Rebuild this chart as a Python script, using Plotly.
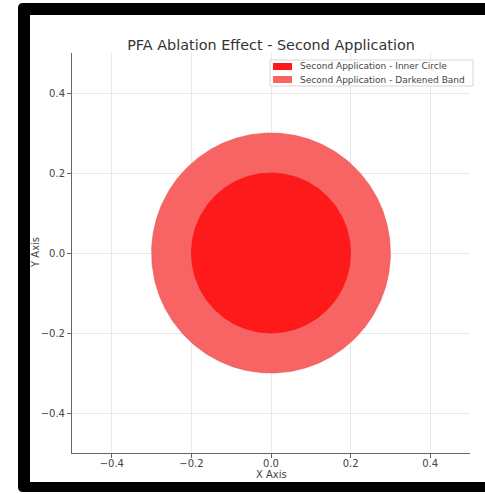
import numpy as np
import plotly.graph_objects as go

# ---- data ----
series_names = ["Second Application - Inner Circle", "Second Application - Darkened Band"]
radii = [0.2, 0.3]
center_x = [0.0, 0.0]
center_y = [0.0, 0.0]
tick_vals = [-0.4, -0.2, 0.0, 0.2, 0.4]
title_text = "PFA Ablation Effect - Second Application"
x_label = "X Axis"
y_label = "Y Axis"

# ---- style ----
W, H = 485, 494
ML, MR, MT, MB = 72, 15, 53, 41
fill_colors = ["#fe1a1a", "#f86464"]
line_colors = ["#f01010", "#e85252"]
FONT = "DejaVu Sans"

PW = W - ML - MR
PH = H - MT - MB


def px(x):
    return (x - ML) / PW


def py(y):
    return (H - MB - y) / PH


fig = go.Figure()

theta = np.linspace(0, 2 * np.pi, 361)
for i in [1, 0]:
    fig.add_trace(go.Scatter(
        x=center_x[i] + radii[i] * np.cos(theta),
        y=center_y[i] + radii[i] * np.sin(theta),
        mode="lines", fill="toself",
        fillcolor=fill_colors[i],
        line=dict(color=line_colors[i], width=0.6),
        name=series_names[i], showlegend=False, hoverinfo="skip",
    ))

shapes = []
# black photo frame: top, bottom and left piece (rounded outer corners)
shapes.append(dict(type="rect", xref="paper", yref="paper",
                   x0=px(28), x1=px(W), y0=py(3), y1=py(15),
                   fillcolor="black", line=dict(width=0), layer="below"))
shapes.append(dict(type="rect", xref="paper", yref="paper",
                   x0=px(28), x1=px(W), y0=py(482), y1=py(492),
                   fillcolor="black", line=dict(width=0), layer="below"))
x0, x1, y0, y1, r = px(18), px(30), py(3), py(492), 5
rx, ry = r / PW, r / PH
left_path = (f"M {x0+rx},{y0} L {x1},{y0} L {x1},{y1} L {x0+rx},{y1} "
             f"Q {x0},{y1} {x0},{y1+ry} L {x0},{y0-ry} Q {x0},{y0} {x0+rx},{y0} Z")
shapes.append(dict(type="path", xref="paper", yref="paper", path=left_path,
                   fillcolor="black", line=dict(width=0), layer="below"))
# keep the right margin white
shapes.append(dict(type="rect", xref="paper", yref="paper",
                   x0=px(474), x1=px(W + 5), y0=py(15), y1=py(482),
                   fillcolor="white", line=dict(width=0), layer="above"))

# manual legend
lx0, lx1, ly0, ly1 = 270, 473, 60, 86
shapes.append(dict(type="rect", xref="paper", yref="paper",
                   x0=px(lx0), x1=px(lx1), y0=py(ly0), y1=py(ly1),
                   fillcolor="rgba(255,255,255,0.85)", line=dict(color="#d6d6d6", width=1),
                   layer="above"))
annotations = []
entry_y = [66.5, 79.5]
for k, i in enumerate([0, 1]):
    yc = entry_y[k]
    shapes.append(dict(type="rect", xref="paper", yref="paper",
                       x0=px(273), x1=px(292), y0=py(yc - 3.5), y1=py(yc + 3.5),
                       fillcolor=fill_colors[i], line=dict(width=0), layer="above"))
    annotations.append(dict(xref="paper", yref="paper", x=px(298), y=py(yc),
                            xanchor="left", yanchor="middle", showarrow=False,
                            text=series_names[i],
                            font=dict(family=FONT, size=9, color="#444444")))

annotations.append(dict(xref="paper", yref="paper", x=px(271), y=py(474),
                        xanchor="center", yanchor="middle", showarrow=False,
                        text=x_label, font=dict(family=FONT, size=10, color="#444444")))
annotations.append(dict(xref="paper", yref="paper", x=px(35), y=py(253),
                        xanchor="center", yanchor="middle", showarrow=False, textangle=-90,
                        text=y_label, font=dict(family=FONT, size=10, color="#444444")))

fig.update_layout(
    width=W, height=H,
    margin=dict(l=ML, r=MR, t=MT, b=MB),
    paper_bgcolor="white", plot_bgcolor="white",
    title=dict(text=title_text, xref="container", x=271 / W, xanchor="center",
               yref="container", y=1 - 45 / H, yanchor="middle",
               font=dict(family=FONT, size=14.4, color="#333333")),
    shapes=shapes, annotations=annotations,
    showlegend=False,
    font=dict(family=FONT, size=10, color="#444444"),
)

axis_common = dict(
    range=[-0.5, 0.5], tickvals=tick_vals, tickformat=".1f",
    showgrid=True, gridcolor="#e8e8e8", gridwidth=1,
    zeroline=False, showline=True, linecolor="#666666", linewidth=1,
    ticks="outside", ticklen=4, tickcolor="#666666", tickwidth=1,
    tickfont=dict(family=FONT, size=10, color="#444444"),
    mirror=False, fixedrange=True,
)
fig.update_xaxes(**axis_common, ticklabelstandoff=-3)
fig.update_yaxes(**axis_common)

fig.write_html(
    "out.html", config={"displayModeBar": False},
    post_script=("document.body.style.margin='0';document.body.style.overflow='hidden';"
                 "document.documentElement.style.overflow='hidden';"
                 "document.documentElement.style.background='white';"))
